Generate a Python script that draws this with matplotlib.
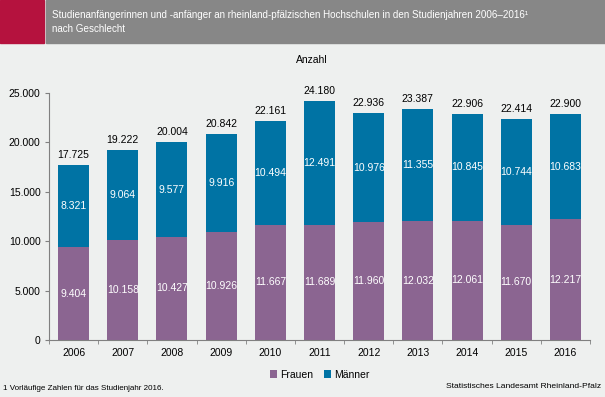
import matplotlib.pyplot as plt
from matplotlib.patches import Rectangle

plt.rcParams['font.family'] = ['Liberation Sans', 'DejaVu Sans']

jahre = ['2006', '2007', '2008', '2009', '2010', '2011', '2012', '2013', '2014', '2015', '2016']
frauen = [9404, 10158, 10427, 10926, 11667, 11689, 11960, 12032, 12061, 11670, 12217]
maenner = [8321, 9064, 9577, 9916, 10494, 12491, 10976, 11355, 10845, 10744, 10683]
gesamt = [17725, 19222, 20004, 20842, 22161, 24180, 22936, 23387, 22906, 22414, 22900]
y_ticks = [0, 5000, 10000, 15000, 20000, 25000]

c_frauen = '#8b6591'
c_maenner = '#0073a4'
bg = '#eef0ef'


def fmt(v):
    return f'{v:,}'.replace(',', '.')


def main():
    W, H = 605, 397
    fig = plt.figure(figsize=(W / 100, H / 100), dpi=100, facecolor=bg)

    # Kopfzeile
    fig.patches.append(Rectangle((0, 1 - 43 / H), 44 / W, 43 / H, transform=fig.transFigure,
                                 color='#b5123e', zorder=0))
    fig.patches.append(Rectangle((46 / W, 1 - 43 / H), 1 - 46 / W, 43 / H, transform=fig.transFigure,
                                 color='#878787', zorder=0))
    fig.text(52 / W, 1 - 15 / H, 'Studienanfängerinnen und -anfänger an rheinland-pfälzischen Hochschulen '
             'in den Studienjahren 2006–2016¹', color='white', fontsize=7.1, va='center')
    fig.text(52 / W, 1 - 29 / H, 'nach Geschlecht', color='white', fontsize=7.1, va='center')

    ax = fig.add_axes([49 / W, 1 - 340 / H, (590 - 49) / W, (340 - 93) / H])
    ax.set_facecolor(bg)
    x = range(len(jahre))
    ax.bar(x, frauen, width=0.63, color=c_frauen, label='Frauen')
    ax.bar(x, maenner, width=0.63, bottom=frauen, color=c_maenner, label='Männer')

    for i in x:
        ax.text(i, frauen[i] / 2, fmt(frauen[i]), ha='center', va='center', color='white', fontsize=7.5)
        ax.text(i, frauen[i] + maenner[i] / 2, fmt(maenner[i]), ha='center', va='center',
                color='white', fontsize=7.5)
        ax.text(i, gesamt[i] + 500, fmt(gesamt[i]), ha='center', va='bottom', color='black', fontsize=7.5)

    ax.set_xlim(-0.5, len(jahre) - 0.5)
    ax.set_ylim(0, 25000)
    ax.set_yticks(y_ticks)
    ax.set_yticklabels([fmt(v) for v in y_ticks], fontsize=7.5)
    ax.set_xticks(list(x))
    ax.set_xticklabels(jahre, fontsize=7.5)
    ax.set_xticks([i - 0.5 for i in range(len(jahre) + 1)], minor=True)
    ax.tick_params(axis='x', which='major', length=0, pad=6)
    ax.tick_params(axis='x', which='minor', length=3, color='#808080')
    ax.tick_params(axis='y', length=3, color='#808080', pad=3)
    for s in ['top', 'right']:
        ax.spines[s].set_visible(False)
    ax.spines['left'].set_color('#808080')
    ax.spines['bottom'].set_color('#808080')

    fig.text(312 / W, 1 - 60 / H, 'Anzahl', ha='center', va='center', fontsize=7.5)

    ax.legend(loc='center', bbox_to_anchor=(0.5, -0.14), ncol=2, frameon=False, fontsize=7.5,
              handlelength=0.7, handleheight=0.7, handletextpad=0.3, columnspacing=1.0)

    fig.text(3 / W, 1 - 388 / H, '1 Vorläufige Zahlen für das Studienjahr 2016.', fontsize=5.8, va='center')
    fig.text(601 / W, 1 - 386 / H, 'Statistisches Landesamt Rheinland-Pfalz', fontsize=6.1,
             va='center', ha='right')

    fig.savefig('out.png', dpi=100, facecolor=bg)


if __name__ == '__main__':
    main()
